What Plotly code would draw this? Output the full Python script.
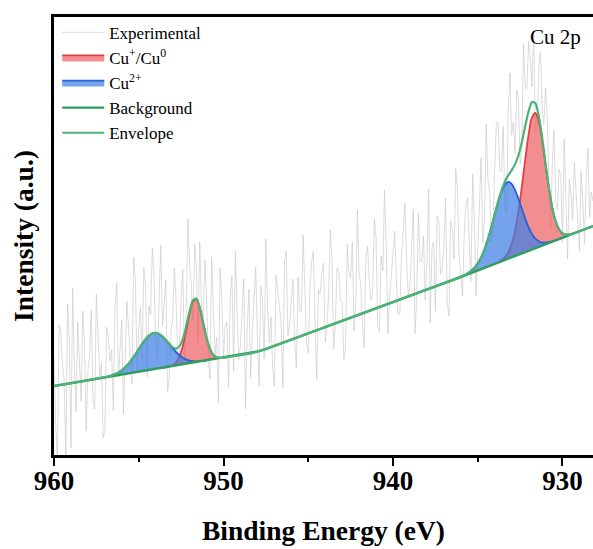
import numpy as np
import plotly.graph_objects as go

# ---------------- data (binding energy in eV, intensity in arbitrary units) ----------------
# measured points on the x.0 / x.2 / ... grid
exp_counts_a = [
    99, -5, 125, 76, 151, 7, 92, 133, 54, 109,
    85, 145, 46, 121, 92, 23, 119, 105, 146, 78,
    135, 88, 126, 71, 176, 126, 96, 171, 149, 207,
    112, 161, 129, 175, 76, 133, 156, 104, 186, 144,
    189, 135, 187, 213, 137, 157, 76, 155, 118, 187,
    97, 133, 158, 84, 145, 110, 176, 126, 77, 152,
    118, 169, 96, 147, 138, 69, 165, 132, 193, 119,
    150, 112, 178, 144, 165, 102, 193, 134, 165, 182,
    113, 159, 196, 132, 183, 154, 106, 182, 213, 149,
    181, 132, 198, 174, 161, 217, 123, 184, 211, 157,
    203, 174, 141, 222, 198, 169, 246, 157, 193, 219,
    191, 132, 213, 239, 181, 207, 153, 234, 196, 267,
    183, 220, 257, 174, 237, 217, 298, 236, 276, 213,
    286, 333, 284, 248, 345, 320, 301, 355, 308, 369,
    414, 368, 322, 389, 348, 367, 267, 292, 254, 286,
    212, 255, 276, 236, 263, 204, 255, 276, 238, 254,
]
# measured points in between (x.1 / x.3 / ...)
exp_counts_b = [
    29, 130, 90, -4, 117, 167, 43, 83, 144, 24,
    100, 55, 161, 77, 17, 128, 94, 45, 172, 114,
    41, 154, 103, 198, 83, 148, 188, 78, 140, 182,
    97, 210, 152, 63, 125, 187, 97, 157, 92, 236,
    169, 211, 112, 150, 195, 97, 198, 99, 52, 157,
    128, 68, 179, 204, 95, 140, 46, 166, 122, 188,
    69, 155, 216, 112, 89, 180, 146, 67, 204, 130,
    176, 87, 144, 220, 111, 167, 204, 75, 161, 192,
    129, 225, 106, 187, 154, 95, 211, 177, 124, 245,
    171, 107, 209, 155, 236, 127, 199, 265, 121, 177,
    224, 140, 201, 252, 159, 215, 121, 242, 194, 155,
    266, 207, 144, 235, 186, 257, 139, 225, 286, 197,
    159, 251, 213, 281, 159, 250, 212, 331, 262, 224,
    332, 284, 329, 241, 382, 333, 365, 291, 411, 366,
    398, 425, 325, 403, 330, 339, 227, 325, 245, 279,
    316, 196, 261, 292, 228, 284, 211, 307, 263,
]
exp_energy = np.round(960.0 - 0.1 * np.arange(2 * len(exp_counts_a) - 1), 1)
exp_counts = [v for pair in zip(exp_counts_a, exp_counts_b) for v in pair] + [exp_counts_a[-1]]

bg_energy = [960.0, 948.4, 947.9, 947.4, 936.0, 928.2]
bg_counts = [69.0, 101.7, 103.8, 106.6, 178.0, 229.0]

# Cu2+ (2p1/2 region)
blue_left_energy = np.round(np.linspace(957.0, 951.0, 31), 1)
blue_left_counts = [77.8, 78.5, 79.6, 80.9, 82.5, 84.8, 87.6, 91.3, 95.7, 100.6,
                    105.9, 111.1, 115.7, 119.3, 121.6, 122.1, 121.0, 118.5, 115.0, 111.0,
                    106.8, 103.0, 99.8, 97.2, 95.5, 94.4, 93.8, 93.7, 93.8, 94.1, 94.4]
blue_left_base_energy = [957.0, 951.0]
blue_left_base_counts = [77.5, 94.4]

# Cu+/Cu0 (2p1/2 region)
red_left_energy = np.round(np.linspace(953.6, 949.8, 20), 1)
red_left_counts = [87.1, 87.7, 88.5, 89.8, 92.7, 98.7, 109.1, 124.3, 141.1, 153.2,
                   155.5, 147.0, 132.0, 117.1, 106.2, 100.1, 97.7, 97.1, 97.2, 97.8]
red_left_base_energy = [953.6, 949.8]
red_left_base_counts = [87.0, 97.8]

# Cu2+ (2p3/2 region)
blue_right_energy = np.round(np.linspace(937.0, 929.8, 37), 1)
blue_right_counts = [171.7, 173.0, 174.2, 175.5, 176.8, 178.2, 179.8, 181.7, 184.0, 187.2,
                     191.6, 197.6, 205.7, 215.8, 227.6, 240.4, 252.8, 263.3, 270.4, 273.1,
                     271.2, 265.2, 256.3, 246.2, 236.4, 227.7, 221.1, 216.5, 213.8, 212.5,
                     212.3, 212.8, 213.7, 214.8, 216.0, 217.2, 218.6]
blue_right_base_energy = [937.0, 936.0, 929.8]
blue_right_base_counts = [171.7, 178.0, 218.6]

# Cu+/Cu0 (2p3/2 region)
red_right_energy = np.round(np.linspace(934.0, 929.0, 26), 1)
red_right_counts = [191.2, 192.8, 194.8, 197.8, 202.8, 211.1, 224.3, 243.5, 268.0, 295.4,
                    320.3, 337.3, 342.0, 333.4, 314.4, 290.1, 266.3, 246.9, 233.4, 225.4,
                    221.5, 220.4, 220.6, 221.4, 222.6, 223.8]
red_right_base_energy = [934.0, 929.0]
red_right_base_counts = [191.1, 223.8]

# Envelope
env_left_energy = list(np.round(np.linspace(957.0, 949.8, 37), 1))
env_left_counts = [77.8, 78.5, 79.6, 80.9, 82.5, 84.8, 87.6, 91.3, 95.7, 100.6,
                   105.9, 111.1, 115.7, 119.3, 121.6, 122.1, 121.0, 118.5, 115.1, 111.3,
                   107.9, 106.4, 108.6, 115.9, 128.8, 143.9, 154.9, 156.5, 147.5, 132.3,
                   117.1, 106.2, 100.1, 97.7, 97.1, 97.2, 97.8]
env_right_energy = list(np.round(np.linspace(937.0, 929.0, 41), 1))
env_right_counts = [171.7, 173.0, 174.2, 175.5, 176.8, 178.2, 179.8, 181.7, 184.0, 187.2,
                    191.6, 197.6, 205.7, 215.8, 227.6, 240.5, 253.2, 264.4, 273.2, 279.6,
                    284.7, 290.6, 299.6, 312.7, 328.9, 343.8, 352.9, 351.7, 339.1, 317.5,
                    291.7, 267.1, 247.3, 233.6, 225.5, 221.5, 220.4, 220.6, 221.4, 222.6, 223.8]
env_energy = [960.0, 958.5] + env_left_energy + [948.4, 947.9, 947.4] + env_right_energy + [928.2]
env_counts = [69.0, 73.2] + env_left_counts + [101.7, 103.8, 106.6] + env_right_counts + [229.0]

x_ticks = [960, 950, 940, 930]
x_tick_text = ["<b>960</b>", "<b>950</b>", "<b>940</b>", "<b>930</b>"]
x_minor = [955, 945, 935]

# ---------------- styles ----------------
SERIF = "Liberation Serif, Times New Roman, serif"
RED_FILL = "rgba(238,88,92,0.68)"
RED_LINE = "rgb(228,62,66)"
BLUE_FILL = "rgba(62,128,228,0.72)"
BLUE_LINE = "rgb(38,98,214)"
BG_GREEN = "rgb(46,158,92)"
ENV_GREEN = "rgb(76,178,118)"

fig = go.Figure()

fig.add_trace(go.Scatter(x=exp_energy, y=exp_counts, mode="lines", name="Experimental",
                         line=dict(color="rgb(204,204,204)", width=0.7), legendrank=1))

def add_peak(base_x, base_y, px, py, fill, line, name, show, rank):
    fig.add_trace(go.Scatter(x=base_x, y=base_y, mode="lines", line=dict(width=0, color="rgba(0,0,0,0)"),
                             showlegend=False, hoverinfo="skip"))
    fig.add_trace(go.Scatter(x=px, y=py, mode="lines", fill="tonexty", fillcolor=fill,
                             line=dict(color=line, width=1.8, shape="spline", smoothing=1),
                             name=name, showlegend=show, legendrank=rank))

add_peak(red_left_base_energy, red_left_base_counts, red_left_energy, red_left_counts,
         RED_FILL, RED_LINE, "Cu<sup>+</sup>/Cu<sup>0</sup>", True, 2)
add_peak(red_right_base_energy, red_right_base_counts, red_right_energy, red_right_counts,
         RED_FILL, RED_LINE, "Cu<sup>+</sup>/Cu<sup>0</sup>", False, 2)
add_peak(blue_left_base_energy, blue_left_base_counts, blue_left_energy, blue_left_counts,
         BLUE_FILL, BLUE_LINE, "Cu<sup>2+</sup>", True, 3)
add_peak(blue_right_base_energy, blue_right_base_counts, blue_right_energy, blue_right_counts,
         BLUE_FILL, BLUE_LINE, "Cu<sup>2+</sup>", False, 3)

fig.add_trace(go.Scatter(x=bg_energy, y=bg_counts, mode="lines", name="Background",
                         line=dict(color=BG_GREEN, width=2.4), legendrank=4))
fig.add_trace(go.Scatter(x=env_energy, y=env_counts, mode="lines", name="Envelope",
                         line=dict(color=ENV_GREEN, width=2.2, shape="spline", smoothing=0.6),
                         legendrank=5))

fig.add_annotation(text="Cu 2p", xref="paper", yref="paper", x=0.93, y=0.954,
                   xanchor="center", yanchor="middle",
                   showarrow=False, font=dict(family=SERIF, size=21, color="black"))

fig.update_layout(
    width=593, height=549,
    margin=dict(l=54, r=0, t=17, b=94),
    paper_bgcolor="white", plot_bgcolor="white",
    showlegend=True,
    legend=dict(x=0.006, y=1.005, xanchor="left", yanchor="top", bgcolor="rgba(0,0,0,0)",
                font=dict(family=SERIF, size=17, color="black"), itemwidth=42,
                traceorder="normal"),
    xaxis=dict(range=[960, 928.2], showgrid=False, zeroline=False,
               showline=True, linecolor="black", linewidth=2.5, mirror=True,
               tickmode="array", tickvals=x_ticks, ticktext=x_tick_text,
               ticks="outside", ticklen=8, tickwidth=2, tickcolor="black",
               ticklabelstandoff=-8,
               minor=dict(tickmode="array", tickvals=x_minor, ticks="outside", ticklen=4,
                          tickwidth=2, tickcolor="black"),
               tickfont=dict(family=SERIF, size=27, color="black"),
               title=dict(text="<b>Binding Energy (eV)</b>", standoff=26,
                          font=dict(family=SERIF, size=27.5, color="black")),
               automargin=False),
    yaxis=dict(range=[0, 438], showgrid=False, zeroline=False,
               showline=True, linecolor="black", linewidth=2.5, mirror=False,
               ticks="", showticklabels=False,
               title=dict(text="<b>Intensity (a.u.)</b>", standoff=10,
                          font=dict(family=SERIF, size=27.5, color="black")),
               automargin=False),
)

fig.write_html("out.html")
